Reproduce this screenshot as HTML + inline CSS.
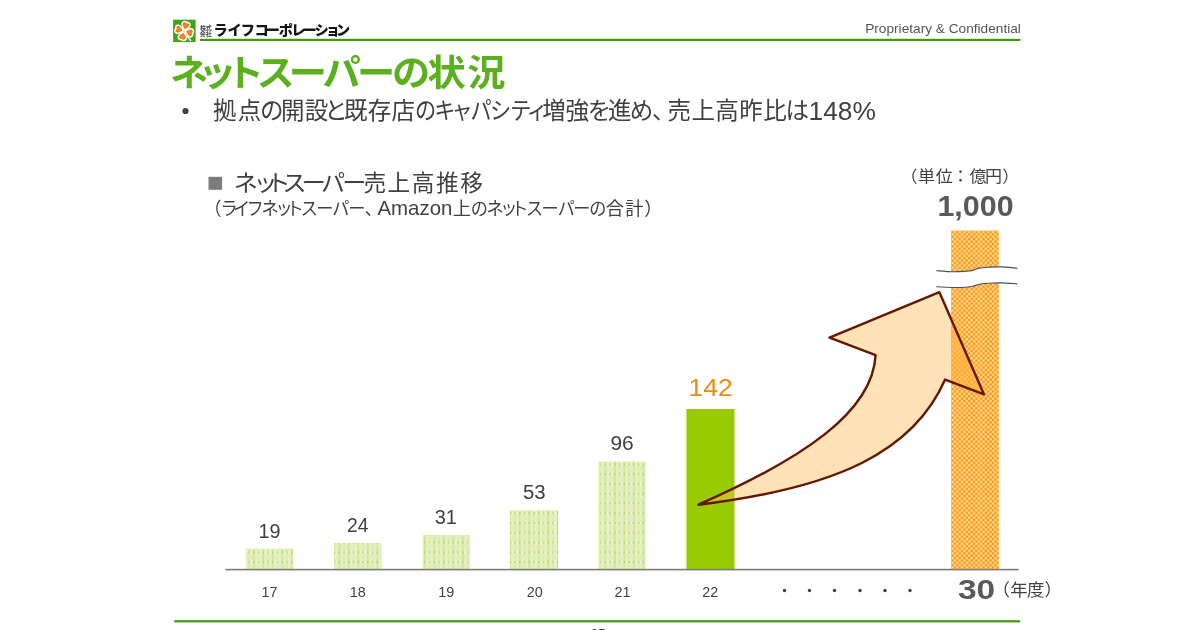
<!DOCTYPE html>
<html lang="ja"><head><meta charset="utf-8"><title>ネットスーパーの状況</title>
<style>
html,body{margin:0;padding:0;background:#fff;}
body{width:1200px;height:630px;overflow:hidden;position:relative;font-family:"Liberation Sans","Noto Sans CJK JP",sans-serif;}
svg{position:absolute;left:0;top:0;display:block}
svg text{font-family:"Liberation Sans","Noto Sans CJK JP",sans-serif;}
</style></head><body>
<svg width="1200" height="630" viewBox="0 0 1200 630">
<defs>
<pattern id="gp" x="605.3" y="464.4" width="9.5" height="9.76" patternUnits="userSpaceOnUse">
<rect width="9.5" height="9.76" fill="#e6f2c5"/>
<rect x="-0.7" y="0" width="1.4" height="9.76" fill="#cde38c"/><rect x="8.8" y="0" width="1.4" height="9.76" fill="#cde38c"/>
<rect x="4.1" y="0" width="1.3" height="9.76" fill="#d9eaa8"/>
<rect x="2" y="0" width="0.8" height="9.76" fill="#e0eeb8"/><rect x="6.7" y="0" width="0.8" height="9.76" fill="#e0eeb8"/>
<rect x="0" y="-0.7" width="9.5" height="1.4" fill="#d6e9a2"/><rect x="0" y="9.06" width="9.5" height="1.4" fill="#d6e9a2"/>
<rect x="-0.8" y="-0.7" width="1.6" height="1.4" fill="#a9d140"/><rect x="8.7" y="-0.7" width="1.6" height="1.4" fill="#a9d140"/><rect x="-0.8" y="9.06" width="1.6" height="1.4" fill="#a9d140"/><rect x="8.7" y="9.06" width="1.6" height="1.4" fill="#a9d140"/>
<rect x="3.95" y="-0.7" width="1.6" height="1.4" fill="#b9da62"/><rect x="3.95" y="9.06" width="1.6" height="1.4" fill="#b9da62"/>
<rect x="1.6" y="-0.7" width="1.6" height="1.4" fill="#fff"/><rect x="1.6" y="9.06" width="1.6" height="1.4" fill="#fff"/>
<rect x="6.3" y="-0.7" width="1.6" height="1.4" fill="#fff"/><rect x="6.3" y="9.06" width="1.6" height="1.4" fill="#fff"/>
</pattern>
<pattern id="op" x="951" y="230.5" width="4.76" height="4.76" patternUnits="userSpaceOnUse">
<rect width="4.76" height="4.76" fill="#ffdfa8"/>
<rect x="0.3" y="0.3" width="2.5" height="2.5" rx="0.6" fill="#ff960a"/>
<rect x="2.68" y="2.68" width="2.5" height="2.5" rx="0.6" fill="#ff960a"/>
<rect x="-2.08" y="2.68" width="2.5" height="2.5" rx="0.6" fill="#ff960a"/>
<rect x="2.68" y="-2.08" width="2.5" height="2.5" rx="0.6" fill="#ff960a"/>
</pattern>
<radialGradient id="hg" gradientUnits="userSpaceOnUse" cx="0" cy="-5.8" r="4.2"><stop offset="0" stop-color="#f7960f"/><stop offset="0.55" stop-color="#f07a12"/><stop offset="1" stop-color="#e5501c"/></radialGradient>
<clipPath id="ac"><path d="M698.4,504.7 C802.5,458.8 872.6,412.4 875.6,355.1 L829.5,337.7 L939.4,292.2 L984,394.4 L945.1,379.6 C913.7,451.3 838,487.9 698.4,504.7 Z"/></clipPath>
</defs>
<rect width="1200" height="630" fill="#fff"/>

<!-- header -->
<g id="logo">
<rect x="173.1" y="19.7" width="22.5" height="22.4" fill="#41a31a"/>
<path d="M185.2,33 C186.6,35.5 188,37.6 190.6,40.6" stroke="#fff" stroke-width="1.5" fill="none" stroke-linecap="round"/>
<g transform="translate(184.2,31) rotate(16)">
<g fill="#fff" stroke="#fff" stroke-width="3.1" stroke-linejoin="round"><circle r="2.6"/>
<path id="h" d="M0,-2.1 C-1.5,-3.7 -3.5,-4.8 -3.3,-6.9 C-3.1,-8.6 -1,-9 0,-7.7 C1,-9 3.1,-8.6 3.3,-6.9 C3.5,-4.8 1.5,-3.7 0,-2.1Z"/>
<use href="#h" transform="rotate(90)"/><use href="#h" transform="rotate(180)"/><use href="#h" transform="rotate(270)"/>
</g>
<g fill="url(#hg)">
<use href="#h"/><use href="#h" transform="rotate(90)"/><use href="#h" transform="rotate(180)"/><use href="#h" transform="rotate(270)"/>
</g>
<path d="M-1.6,0 L1.6,0 M0,-1.6 L0,1.6" stroke="#bfe6b0" stroke-width="0.7"/>
</g>
</g>
<rect x="200" y="38.8" width="820.5" height="2.2" fill="#3f9a0a"/>

<rect x="208.5" y="176.8" width="13.6" height="13" fill="#7c7c7c"/>
<circle cx="185.5" cy="111" r="3.1" fill="#404040"/>

<!-- bars -->
<rect x="245.7" y="548.6" width="47.5" height="20.9" fill="url(#gp)"/>
<rect x="334" y="543" width="47.6" height="26.5" fill="url(#gp)"/>
<rect x="422.4" y="535" width="47.6" height="34.5" fill="url(#gp)"/>
<rect x="509.8" y="510.2" width="48.4" height="59.3" fill="url(#gp)"/>
<rect x="598" y="461.5" width="47.7" height="108.0" fill="url(#gp)"/>

<rect x="686.4" y="409" width="48.1" height="160.5" fill="#99cc00"/>
<rect x="951" y="230.5" width="47.9" height="339" fill="url(#op)"/>
<!-- break -->
<path d="M936.7,270.7 C939.3,270.9 947.3,271.7 952.2,271.8 C957.1,271.9 962.6,271.5 966.0,271.3 C969.4,271.1 970.6,270.9 972.8,270.4 C975.0,269.9 976.6,268.6 979.1,268.1 C981.6,267.6 984.3,267.4 988.0,267.2 C991.7,267.0 996.4,266.7 1001.3,266.9 C1006.1,267.1 1014.5,268.1 1017.1,268.3 L1017.1,283.9 C1014.2,283.7 1004.6,283.0 999.7,282.9 C994.9,282.8 991.4,283.1 988.0,283.3 C984.6,283.5 981.6,283.8 979.1,284.3 C976.6,284.8 975.0,285.8 972.8,286.3 C970.6,286.8 969.2,287.0 966.0,287.2 C962.8,287.4 958.7,287.6 953.8,287.5 C948.9,287.4 939.6,286.8 936.7,286.7 Z" fill="#fff"/>
<path d="M936.7,270.7 C939.3,270.9 947.3,271.7 952.2,271.8 C957.1,271.9 962.6,271.5 966.0,271.3 C969.4,271.1 970.6,270.9 972.8,270.4 C975.0,269.9 976.6,268.6 979.1,268.1 C981.6,267.6 984.3,267.4 988.0,267.2 C991.7,267.0 996.4,266.7 1001.3,266.9 C1006.1,267.1 1014.5,268.1 1017.1,268.3" fill="none" stroke="#4a5058" stroke-width="1.1" stroke-linecap="round"/>
<path d="M936.7,286.7 C939.6,286.8 948.9,287.4 953.8,287.5 C958.7,287.6 962.8,287.4 966.0,287.2 C969.2,287.0 970.6,286.8 972.8,286.3 C975.0,285.8 976.6,284.8 979.1,284.3 C981.6,283.8 984.6,283.5 988.0,283.3 C991.4,283.1 994.9,282.8 999.7,282.9 C1004.6,283.0 1014.2,283.7 1017.1,283.9" fill="none" stroke="#4a5058" stroke-width="1.1" stroke-linecap="round"/>
<!-- axis -->
<rect x="225.5" y="568.8" width="793.3" height="1.6" fill="#7a7a7a"/>
<g fill="#404040"><circle cx="784.5" cy="590.5" r="1.7"/><circle cx="809.5" cy="590.5" r="1.7"/><circle cx="834.5" cy="590.5" r="1.7"/><circle cx="860" cy="590.5" r="1.7"/><circle cx="885" cy="590.5" r="1.7"/><circle cx="910" cy="590.5" r="1.7"/></g>

<text x="199.88" y="29.60" font-size="6.2" font-weight="700" fill="#444" textLength="11.94" lengthAdjust="spacingAndGlyphs">株式</text>
<text x="199.85" y="35.60" font-size="6.2" font-weight="700" fill="#444" textLength="11.97" lengthAdjust="spacingAndGlyphs">会社</text>
<text x="213.38 227.61 240.72 254.47 265.80 278.85 291.35 302.40 314.58 325.75 336.07" y="35.20" font-size="14.2" font-weight="900" fill="#151515">ライフコーポレーション</text>
<text x="865.21" y="32.60" font-size="13.3" font-weight="400" fill="#555" textLength="155.68" lengthAdjust="spacingAndGlyphs">Proprietary &amp; Confidential</text>
<text x="163.48 190.66 217.03 246.60 277.61 310.17 343.33 376.98 411.11 449.22" y="86.00" font-size="36.8" font-weight="700" fill="#5cb01d" transform="scale(1.04,1)">ネットスーパーの状況</text>
<text x="212.91 237.68 260.06 280.88 304.70 324.28 344.06 367.81 391.56" y="119.10" font-size="23.5" font-weight="400" fill="#404040">拠点の開設と既存店</text>
<text x="461.09 482.64 501.68 522.68 544.40 567.02 584.98" y="119.10" font-size="23.5" font-weight="400" fill="#404040" transform="scale(0.9,1)">のキャパシティ</text>
<text x="542.18 565.47 587.79 608.06 629.87 651.92 667.44 691.38 715.32 739.26 763.21 785.49" y="119.10" font-size="23.5" font-weight="400" fill="#404040">増強を進め、売上高昨比は</text>
<text x="808.53" y="119.50" font-size="25" font-weight="400" fill="#404040" textLength="67.33" lengthAdjust="spacingAndGlyphs">148%</text>
<text x="224.83 243.82 256.20 271.57 290.08 308.66 329.07" y="190.80" font-size="23.2" font-weight="400" fill="#404040" transform="scale(1.04,1)">ネットスーパー</text>
<text x="363.38 387.59 411.79 436.00 460.21" y="190.80" font-size="22.7" font-weight="400" fill="#404040">売上高推移</text>
<text x="217.35 234.55 247.96 262.35 278.30 293.06 304.67 319.84 336.33 353.39 370.37 387.92" y="214.80" font-size="18.3" font-weight="400" fill="#404040" transform="scale(0.94,1)">（ライフネットスーパー、</text>
<text x="377.50" y="214.50" font-size="19.8" font-weight="400" fill="#404040" textLength="74.90" lengthAdjust="spacingAndGlyphs">Amazon</text>
<text x="452.65" y="214.80" font-size="18.3" font-weight="400" fill="#404040">上</text>
<text x="500.79 517.67 532.16 543.77 559.57 575.96 593.23 609.89 626.75" y="214.80" font-size="18.3" font-weight="400" fill="#404040" transform="scale(0.94,1)">のネットスーパーの</text>
<text x="605.86 625.25 644.30" y="214.80" font-size="18.3" font-weight="400" fill="#404040">合計）</text>
<text x="857.63 874.25 891.22 906.76 923.28 938.13 954.59" y="182.10" font-size="16.2" font-weight="400" fill="#404040" transform="scale(1.05,1)">（単位：億円）</text>
<text x="937.48" y="215.80" font-size="29" font-weight="700" fill="#595959" textLength="76.07" lengthAdjust="spacingAndGlyphs">1,000</text>
<text x="258.52" y="537.90" font-size="19.7" font-weight="400" fill="#404040" textLength="22.02" lengthAdjust="spacingAndGlyphs">19</text>
<text x="347.03" y="532.30" font-size="19.7" font-weight="400" fill="#404040" textLength="21.49" lengthAdjust="spacingAndGlyphs">24</text>
<text x="434.80" y="524.30" font-size="19.7" font-weight="400" fill="#404040" textLength="22.14" lengthAdjust="spacingAndGlyphs">31</text>
<text x="522.98" y="498.70" font-size="19.7" font-weight="400" fill="#404040" textLength="22.68" lengthAdjust="spacingAndGlyphs">53</text>
<text x="610.46" y="450.10" font-size="19.7" font-weight="400" fill="#404040" textLength="23.33" lengthAdjust="spacingAndGlyphs">96</text>
<text x="688.51" y="396.00" font-size="24.5" font-weight="400" fill="#ee8c0a" textLength="44.31" lengthAdjust="spacingAndGlyphs">142</text>
<text x="269.4" y="596.5" font-size="14.4" fill="#404040" text-anchor="middle">17</text>
<text x="357.8" y="596.5" font-size="14.4" fill="#404040" text-anchor="middle">18</text>
<text x="446.2" y="596.5" font-size="14.4" fill="#404040" text-anchor="middle">19</text>
<text x="534.7" y="596.5" font-size="14.4" fill="#404040" text-anchor="middle">20</text>
<text x="622.4" y="596.5" font-size="14.4" fill="#404040" text-anchor="middle">21</text>
<text x="710.2" y="596.5" font-size="14.4" fill="#404040" text-anchor="middle">22</text>
<text x="957.91" y="599.30" font-size="28.2" font-weight="700" fill="#595959" textLength="37.26" lengthAdjust="spacingAndGlyphs">30</text>
<text x="992.52 1010.22 1027.05 1044.45" y="595.80" font-size="17.4" font-weight="400" fill="#404040">（年度）</text>

<!-- arrow -->
<rect x="951" y="285" width="47.9" height="115" fill="#ffa21a" fill-opacity="0.3" clip-path="url(#ac)"/>
<path d="M698.4,504.7 C802.5,458.8 872.6,412.4 875.6,355.1 L829.5,337.7 L939.4,292.2 L984,394.4 L945.1,379.6 C913.7,451.3 838,487.9 698.4,504.7 Z" fill="#ffbb50" fill-opacity="0.41" stroke="#661600" stroke-width="2.4" stroke-linejoin="round"/>

<!-- footer -->
<rect x="174.2" y="620.2" width="846" height="2.2" fill="#3f9a0a"/>
<text x="598.3" y="637.6" font-size="13.5" fill="#404040" text-anchor="middle">25</text>
</svg>
</body></html>
